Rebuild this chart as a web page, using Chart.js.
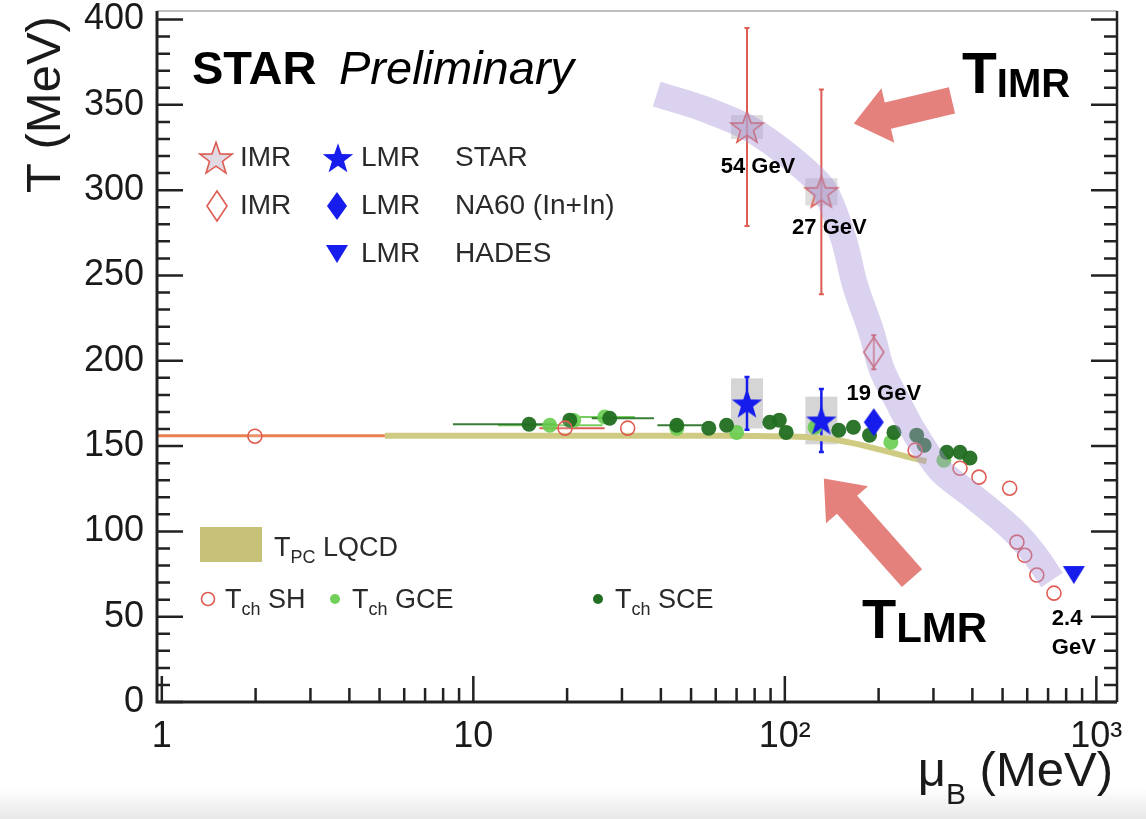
<!DOCTYPE html>
<html>
<head>
<meta charset="utf-8">
<script src="https://cdn.jsdelivr.net/npm/chart.js@4.4.0/dist/chart.umd.min.js"></script>
<style>
  html, body { margin: 0; padding: 0; }
  body { width: 1146px; height: 819px; overflow: hidden;
         background: linear-gradient(to bottom, #fff 0, #fff 788px, #e8e8e8 819px); }
  canvas { display: block; }
</style>
</head>
<body>
<canvas id="chart" width="1146" height="819"></canvas>
<script>
// ---- values ----
const xTickValues = [1, 10, 100, 1000];
const xTickLabels = ['1', '10', '10²', '10³'];
const yTickValues = [0, 50, 100, 150, 200, 250, 300, 350, 400];

// lattice QCD pseudo-critical line / band
const lqcdLineMu = [0.965, 5.2];
const lqcdLineT = [156, 156];
const tpcBandMu = [5.2, 60, 110, 140, 165, 205, 250, 285];
const tpcBandT = [156, 156, 155.5, 154, 151.7, 147.6, 143.5, 141];

// chemical freeze-out, statistical hadronization
const shMu = [1.99, 19.7, 31.3, 262, 365, 420, 527, 556, 589, 644, 731];
const shT = [155.8, 160.5, 160.5, 147.6, 137, 131.8, 125.3, 93.7, 86, 74.4, 63.8];
const shMuLo = [null, 16.3, null, null, null, null, null, null, null, null, null];
const shMuHi = [null, 26.4, null, null, null, null, null, null, null, null, null];

// grand canonical
const gceMu = [17.6, 21, 26.4, 45, 70, 125, 219, 324];
const gceT = [162.2, 165, 167, 160.5, 158, 161, 152.3, 141.7];
const gceMuLo = [12, null, 22, null, null, null, null, null];
const gceMuHi = [26, null, 33, null, null, null, null, null];

// strangeness canonical
const sceMu = [15.1, 20.4, 27.4, 45, 57, 65, 89.5, 96, 101, 149, 166, 187, 224, 265, 280, 331, 365, 393];
const sceT = [162.8, 165.2, 166.3, 162.2, 160.5, 162.2, 164, 165.2, 158, 159.3, 161, 156.4, 158, 156.4, 150.5, 146.4, 146.4, 143];
const sceMuLo = [8.6, null, 24, 39, null, null, null, null, null, null, null, null, null, null, null, null, null, null];
const sceMuHi = [18.3, null, 38, 55, null, null, null, null, null, null, null, null, null, null, null, null, null, null];

// dilepton temperatures
const imrMu = [75.6, 131];
const imrT = [337, 299];
const imrStat = [58, 60];
const imrSys = [7, 8];
const lmrMu = [75.6, 131];
const lmrT = [175, 165];
const lmrStat = [15.5, 18.5];
const lmrSys = [14.7, 14];
const na60Mu = [193];
const na60ImrT = [205];
const na60ImrStat = [10];
const na60LmrT = [164];
const hadesMu = [847];
const hadesT = [74.4];

// hand-drawn guide through the IMR/LMR points
const guideMu = [38.8, 54.2, 76.6, 105, 134, 154.7, 168, 190, 205, 230.8, 257.8, 314.8, 407.8, 540, 635, 721];
const guideT = [356.3, 348, 336.4, 318.8, 300, 270.8, 244.4, 216.3, 194.6, 175.8, 159.4, 136, 119.6, 100.8, 86.2, 71.5];

const energyLabels = ['54 GeV', '27 GeV', '19 GeV'];

// arrows (data coordinates: tail -> tip)
const arrowImr = { fromMu: 344, fromT: 352.6, toMu: 166.5, toT: 339 };
const arrowLmr = { fromMu: 256, fromT: 72.6, toMu: 133.4, toT: 131 };

const FONT = "'Liberation Sans', Arial, Helvetica, sans-serif";
const pts = (xs, ys) => xs.map((x, i) => ({ x: x, y: ys[i] }));

// ---- marker images ----
function makeStar(r, fill, stroke, lw) {
    const s = Math.ceil(2 * r + 2 * lw + 2);
    const c = document.createElement('canvas');
    c.width = c.height = s;
    const g = c.getContext('2d');
    g.translate(s / 2, s / 2 + r * 0.08);
    g.beginPath();
    for (let i = 0; i < 10; i++) {
        const rad = i % 2 ? r * 0.4 : r;
        const a = -Math.PI / 2 + i * Math.PI / 5;
        g.lineTo(rad * Math.cos(a), rad * Math.sin(a));
    }
    g.closePath();
    if (fill) { g.fillStyle = fill; g.fill(); }
    if (stroke) { g.strokeStyle = stroke; g.lineWidth = lw; g.stroke(); }
    return c;
}

function makeDiamond(hw, hh, fill, stroke, lw) {
    const c = document.createElement('canvas');
    c.width = Math.ceil(2 * hw + 2 * lw + 2);
    c.height = Math.ceil(2 * hh + 2 * lw + 2);
    const g = c.getContext('2d');
    g.translate(c.width / 2, c.height / 2);
    g.beginPath();
    g.moveTo(0, -hh); g.lineTo(hw, 0); g.lineTo(0, hh); g.lineTo(-hw, 0);
    g.closePath();
    if (fill) { g.fillStyle = fill; g.fill(); }
    if (stroke) { g.strokeStyle = stroke; g.lineWidth = lw; g.stroke(); }
    return c;
}

function makeTriangleDown(hw, hh, fill) {
    const c = document.createElement('canvas');
    c.width = Math.ceil(2 * hw + 2);
    c.height = Math.ceil(2 * hh + 2);
    const g = c.getContext('2d');
    g.translate(c.width / 2, c.height / 2);
    g.beginPath();
    g.moveTo(-hw, -hh); g.lineTo(hw, -hh); g.lineTo(0, hh);
    g.closePath();
    g.fillStyle = fill; g.fill();
    return c;
}

const BLUE = 'rgb(22,28,235)';
const RED = 'rgb(222,92,82)';
const blueStar = makeStar(16, BLUE, null, 0);
const openStar = makeStar(17, 'rgba(200,185,205,0.55)', RED, 1.6);
const blueDiamond = makeDiamond(10, 14, BLUE, null, 0);
const openDiamond = makeDiamond(10, 15, 'rgba(255,255,255,0.3)', RED, 1.6);
const blueTri = makeTriangleDown(11, 9, BLUE);

// ---- drawing helpers ----
function subText(ctx, x, y, main, sub, rest, size, subSize, drop, weight) {
    ctx.font = weight + ' ' + size + 'px ' + FONT;
    ctx.fillText(main, x, y);
    let cx = x + ctx.measureText(main).width;
    ctx.font = weight + ' ' + subSize + 'px ' + FONT;
    ctx.fillText(sub, cx, y + drop);
    cx += ctx.measureText(sub).width;
    if (rest) {
        ctx.font = weight + ' ' + size + 'px ' + FONT;
        ctx.fillText(rest, cx, y);
    }
}

function drawArrow(ctx, x0, y0, x1, y1, shaftW, headW, headL) {
    const len = Math.hypot(x1 - x0, y1 - y0);
    ctx.save();
    ctx.translate(x0, y0);
    ctx.rotate(Math.atan2(y1 - y0, x1 - x0));
    ctx.beginPath();
    ctx.moveTo(0, -shaftW / 2);
    ctx.lineTo(len - headL, -shaftW / 2);
    ctx.lineTo(len - headL, -headW / 2);
    ctx.lineTo(len, 0);
    ctx.lineTo(len - headL, headW / 2);
    ctx.lineTo(len - headL, shaftW / 2);
    ctx.lineTo(0, shaftW / 2);
    ctx.closePath();
    ctx.fill();
    ctx.restore();
}

const decor = {
    id: 'decor',
    beforeDatasetsDraw(chart) {
        const { ctx, scales: { x, y } } = chart;
        ctx.save();
        // systematic boxes
        ctx.fillStyle = 'rgba(178,178,178,0.55)';
        lmrMu.forEach((m, i) => {
            const px = x.getPixelForValue(m);
            const t = y.getPixelForValue(lmrT[i] + lmrSys[i]);
            const b = y.getPixelForValue(lmrT[i] - lmrSys[i]);
            ctx.fillRect(px - 16, t, 32, b - t);
        });
        ctx.fillStyle = 'rgba(190,190,190,0.5)';
        imrMu.forEach((m, i) => {
            const px = x.getPixelForValue(m);
            const t = y.getPixelForValue(imrT[i] + imrSys[i]);
            const b = y.getPixelForValue(imrT[i] - imrSys[i]);
            ctx.fillRect(px - 16, t, 32, b - t);
        });

        // horizontal errors
        const hErr = (mus, ts, lo, hi, color) => {
            ctx.strokeStyle = color;
            ctx.lineWidth = 2;
            mus.forEach((m, i) => {
                if (lo[i] == null) return;
                const py = y.getPixelForValue(ts[i]);
                ctx.beginPath();
                ctx.moveTo(x.getPixelForValue(lo[i]), py);
                ctx.lineTo(x.getPixelForValue(hi[i]), py);
                ctx.stroke();
            });
        };
        hErr(gceMu, gceT, gceMuLo, gceMuHi, 'rgba(105,200,80,0.9)');
        hErr(sceMu, sceT, sceMuLo, sceMuHi, 'rgba(34,110,34,0.9)');
        hErr(shMu, shT, shMuLo, shMuHi, RED);

        // vertical stat errors
        const vErr = (mus, ts, errs, color, w) => {
            ctx.strokeStyle = color;
            ctx.lineWidth = w;
            mus.forEach((m, i) => {
                const px = x.getPixelForValue(m);
                const t = y.getPixelForValue(ts[i] + errs[i]);
                const b = y.getPixelForValue(ts[i] - errs[i]);
                ctx.beginPath();
                ctx.moveTo(px, t); ctx.lineTo(px, b);
                ctx.moveTo(px - 2.5, t); ctx.lineTo(px + 2.5, t);
                ctx.moveTo(px - 2.5, b); ctx.lineTo(px + 2.5, b);
                ctx.stroke();
            });
        };
        vErr(imrMu, imrT, imrStat, RED, 2);
        vErr(na60Mu, na60ImrT, na60ImrStat, RED, 2);
        vErr(lmrMu, lmrT, lmrStat, BLUE, 2.5);
        ctx.restore();
    },
    afterDatasetsDraw(chart) {
        const { ctx, scales: { x, y } } = chart;
        ctx.save();
        // arrows
        ctx.fillStyle = 'rgba(224,112,106,0.88)';
        [arrowImr, arrowLmr].forEach(a => {
            drawArrow(ctx,
                x.getPixelForValue(a.fromMu), y.getPixelForValue(a.fromT),
                x.getPixelForValue(a.toMu), y.getPixelForValue(a.toT),
                27, 56, 35);
        });

        // energy labels next to their points
        ctx.fillStyle = '#000';
        ctx.textAlign = 'center';
        ctx.textBaseline = 'middle';
        ctx.font = 'bold 22px ' + FONT;
        ctx.fillText(energyLabels[0], x.getPixelForValue(imrMu[0]) + 11, y.getPixelForValue(imrT[0]) + 40);
        ctx.fillText(energyLabels[1], x.getPixelForValue(imrMu[1]) + 8, y.getPixelForValue(imrT[1]) + 36);
        ctx.fillText(energyLabels[2], x.getPixelForValue(na60Mu[0]) + 10, y.getPixelForValue(na60LmrT[0]) - 28);
        ctx.textAlign = 'left';
        const hx = x.getPixelForValue(hadesMu[0]);
        const hy = y.getPixelForValue(hadesT[0]);
        ctx.fillText('2.4', hx - 22, hy + 44);
        ctx.fillText('GeV', hx - 22, hy + 73);

        // STAR Preliminary
        ctx.textBaseline = 'alphabetic';
        ctx.font = 'bold 47px ' + FONT;
        ctx.fillText('STAR', 192, 84);
        ctx.font = 'italic 47px ' + FONT;
        ctx.fillText('Preliminary', 339, 84);

        // T_IMR / T_LMR
        subText(ctx, 962, 93, 'T', 'IMR', null, 57, 40, 4, 'bold');
        subText(ctx, 862, 638, 'T', 'LMR', null, 56, 42, 4, 'bold');

        // top legend
        ctx.fillStyle = '#2a2a2a';
        ctx.font = '28px ' + FONT;
        ctx.textBaseline = 'middle';
        const rows = [158, 206, 254];
        const img = (im, cx, cy) => ctx.drawImage(im, cx - im.width / 2, cy - im.height / 2);
        img(openStar, 216, rows[0]);
        img(blueStar, 338, rows[0]);
        img(openDiamond, 217, rows[1]);
        img(blueDiamond, 337, rows[1]);
        img(blueTri, 337, rows[2]);
        ctx.fillText('IMR', 240, rows[0]);
        ctx.fillText('LMR', 361, rows[0]);
        ctx.fillText('STAR', 455, rows[0]);
        ctx.fillText('IMR', 240, rows[1]);
        ctx.fillText('LMR', 361, rows[1]);
        ctx.fillText('NA60 (In+In)', 455, rows[1]);
        ctx.fillText('LMR', 361, rows[2]);
        ctx.fillText('HADES', 455, rows[2]);

        // bottom legend
        ctx.fillStyle = 'rgb(198,193,118)';
        ctx.fillRect(200, 527, 62, 35);
        ctx.fillStyle = '#2a2a2a';
        ctx.textBaseline = 'alphabetic';
        subText(ctx, 274, 556, 'T', 'PC', ' LQCD', 27, 18, 7, 'normal');
        ctx.beginPath();
        ctx.arc(208, 599, 6.5, 0, Math.PI * 2);
        ctx.strokeStyle = RED; ctx.lineWidth = 1.6; ctx.stroke();
        ctx.fillStyle = 'rgba(105,205,80,0.95)';
        ctx.beginPath(); ctx.arc(335, 599, 5, 0, Math.PI * 2); ctx.fill();
        ctx.fillStyle = 'rgb(34,110,34)';
        ctx.beginPath(); ctx.arc(598, 599, 5, 0, Math.PI * 2); ctx.fill();
        ctx.fillStyle = '#2a2a2a';
        subText(ctx, 225, 608, 'T', 'ch', ' SH', 27, 18, 7, 'normal');
        subText(ctx, 352, 608, 'T', 'ch', ' GCE', 27, 18, 7, 'normal');
        subText(ctx, 615, 608, 'T', 'ch', ' SCE', 27, 18, 7, 'normal');
        ctx.restore();
    },
    afterDraw(chart) {
        const { ctx, chartArea: a, scales: { x, y } } = chart;
        ctx.save();
        // frame
        ctx.strokeStyle = '#aaa';
        ctx.lineWidth = 1.5;
        ctx.beginPath(); ctx.moveTo(a.left, a.top); ctx.lineTo(a.right, a.top); ctx.stroke();
        ctx.strokeStyle = '#222';
        ctx.lineWidth = 3;
        ctx.beginPath();
        ctx.moveTo(a.left, a.top); ctx.lineTo(a.left, a.bottom); ctx.lineTo(a.right, a.bottom);
        ctx.stroke();
        ctx.lineWidth = 2.5;
        ctx.beginPath(); ctx.moveTo(a.right, a.top); ctx.lineTo(a.right, a.bottom); ctx.stroke();

        // inward ticks, y every 10
        ctx.lineWidth = 2.5;
        ctx.beginPath();
        for (let v = 0; v <= y.max; v += 10) {
            const py = y.getPixelForValue(v);
            const len = v % 50 === 0 ? 26 : 13;
            ctx.moveTo(a.left, py); ctx.lineTo(a.left + len, py);
            ctx.moveTo(a.right, py); ctx.lineTo(a.right - len, py);
        }
        // log x ticks
        for (let d = 1; d <= 1000; d *= 10) {
            for (let k = 1; k <= 9; k++) {
                const v = d * k;
                if (v > x.max) break;
                const px = x.getPixelForValue(v);
                const len = k === 1 ? 26 : 14;
                ctx.moveTo(px, a.bottom); ctx.lineTo(px, a.bottom - len);
            }
        }
        ctx.stroke();

        // axis titles
        ctx.fillStyle = '#1a1a1a';
        ctx.textBaseline = 'alphabetic';
        ctx.save();
        ctx.translate(60, 193);
        ctx.rotate(-Math.PI / 2);
        ctx.font = '49px ' + FONT;
        ctx.textAlign = 'left';
        ctx.fillText('T (MeV)', 0, 0);
        ctx.restore();
        ctx.font = '49px ' + FONT;
        ctx.textAlign = 'left';
        const rest = ' (MeV)';
        const wRest = ctx.measureText(rest).width;
        const xEnd = 1113;
        ctx.fillText(rest, xEnd - wRest, 786);
        ctx.font = '30px ' + FONT;
        const wB = ctx.measureText('B').width;
        ctx.fillText('B', xEnd - wRest - wB, 804);
        ctx.font = '49px ' + FONT;
        const wMu = ctx.measureText('μ').width;
        ctx.fillText('μ', xEnd - wRest - wB - wMu, 786);
        ctx.restore();
    }
};

new Chart(document.getElementById('chart'), {
    type: 'scatter',
    data: {
        datasets: [
            { label: 'LMR STAR', data: pts(lmrMu, lmrT), pointStyle: blueStar, pointRadius: 10, order: 0 },
            { label: 'LMR NA60', data: pts(na60Mu, na60LmrT), pointStyle: blueDiamond, pointRadius: 10, order: 0 },
            { label: 'LMR HADES', data: pts(hadesMu, hadesT), pointStyle: blueTri, pointRadius: 10, order: 0 },
            {
                label: 'guide', type: 'line', data: pts(guideMu, guideT), showLine: true,
                borderColor: 'rgba(168,148,214,0.42)', borderWidth: 26, pointRadius: 0,
                tension: 0.3, order: 1
            },
            { label: 'IMR STAR', data: pts(imrMu, imrT), pointStyle: openStar, pointRadius: 10, order: 2 },
            { label: 'IMR NA60', data: pts(na60Mu, na60ImrT), pointStyle: openDiamond, pointRadius: 10, order: 2 },
            {
                label: 'Tch SH', data: pts(shMu, shT), pointStyle: 'circle', pointRadius: 7,
                borderColor: RED, backgroundColor: 'rgba(255,255,255,0.15)', borderWidth: 1.6, order: 3
            },
            {
                label: 'Tch SCE', data: pts(sceMu, sceT), pointStyle: 'circle', pointRadius: 7.5,
                backgroundColor: 'rgba(34,110,34,0.95)', borderWidth: 0, order: 4
            },
            {
                label: 'Tch GCE', data: pts(gceMu, gceT), pointStyle: 'circle', pointRadius: 7.5,
                backgroundColor: 'rgba(105,205,80,0.9)', borderWidth: 0, order: 5
            },
            {
                label: 'LQCD', type: 'line', data: pts(lqcdLineMu, lqcdLineT), showLine: true,
                borderColor: 'rgb(232,128,80)', borderWidth: 3, pointRadius: 0, order: 6
            },
            {
                label: 'Tpc band', type: 'line', data: pts(tpcBandMu, tpcBandT), showLine: true,
                borderColor: 'rgb(208,203,130)', borderWidth: 6, pointRadius: 0, tension: 0.3, order: 7
            }
        ]
    },
    options: {
        responsive: false,
        animation: false,
        devicePixelRatio: 1,
        layout: { padding: { top: 11, right: 29, bottom: 0, left: 0 } },
        plugins: { legend: { display: false }, tooltip: { enabled: false } },
        scales: {
            x: {
                type: 'logarithmic',
                min: 0.965,
                max: 1165,
                grid: { display: false },
                border: { display: false },
                ticks: {
                    font: { family: FONT, size: 36 },
                    color: '#1a1a1a',
                    padding: 5,
                    maxRotation: 0,
                    autoSkip: false,
                    callback: (v) => {
                        const i = xTickValues.indexOf(v);
                        return i >= 0 ? xTickLabels[i] : '';
                    }
                },
                afterBuildTicks: (s) => { s.ticks = xTickValues.map(v => ({ value: v })); },
                afterFit: (s) => { s.height = 117; s.paddingLeft = 0; s.paddingRight = 0; }
            },
            y: {
                min: 0,
                max: 405,
                grid: { display: false },
                border: { display: false },
                ticks: {
                    font: { family: FONT, size: 36 },
                    color: '#1a1a1a',
                    padding: 5
                },
                afterBuildTicks: (s) => { s.ticks = yTickValues.map(v => ({ value: v })); },
                afterFit: (s) => { s.width = 157; s.paddingTop = 0; s.paddingBottom = 0; }
            }
        }
    },
    plugins: [decor]
});
</script>
</body>
</html>
